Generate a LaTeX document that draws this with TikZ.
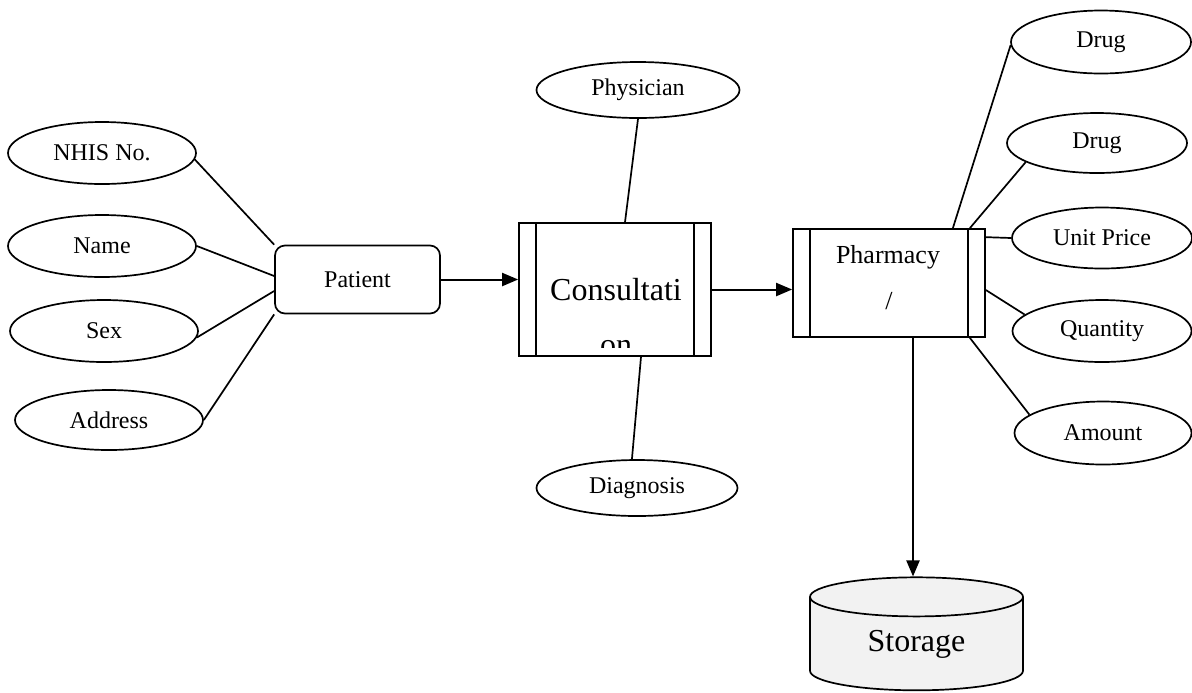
\documentclass[tikz,border=0pt]{standalone}
\usepackage{fontspec}
\setmainfont{Liberation Serif}
\usetikzlibrary{shapes.geometric,arrows.meta}

\begin{document}
\begin{tikzpicture}[x=0.5pt,y=-0.5pt,line width=0.85pt,
  attr/.style={draw,ellipse,inner sep=0pt,font=\fontsize{12}{14}\selectfont},
  proc/.style={draw,inner sep=0pt,minimum width=96pt,
    path picture={
      \draw ([xshift=8.5pt]path picture bounding box.north west) -- ([xshift=8.5pt]path picture bounding box.south west);
      \draw ([xshift=-8.5pt]path picture bounding box.north east) -- ([xshift=-8.5pt]path picture bounding box.south east);}},
  arr/.style={line width=1pt,-{Triangle[length=8pt,width=6.5pt]}}]
  \useasboundingbox (0,0) rectangle (1192,692);

  % patient and its attributes
  \node[attr,minimum width=94pt,minimum height=31pt] (nhis) at (102,153) {NHIS No.};
  \node[attr,minimum width=94pt,minimum height=31pt] (name) at (102,246) {Name};
  \node[attr,minimum width=94pt,minimum height=31pt] (sex) at (104,331) {Sex};
  \node[attr,minimum width=94pt,minimum height=30pt] (address) at (109,420) {Address};
  \node[draw,rounded corners=5pt,inner sep=0pt,minimum width=82.5pt,minimum height=34pt,
    font=\fontsize{12}{14}\selectfont] (patient) at (357.5,279.5) {Patient};

  % consultation
  \node[proc,minimum height=66.5pt] (consult) at (615,289.5) {};
  \node[anchor=base,font=\fontsize{16}{19}\selectfont] (consulttxt) at (616,300) {Consultati};
  \begin{scope}
    \clip (consult.north west) rectangle (711,347);
    \node[anchor=base,font=\fontsize{16}{19}\selectfont] (consulttxt2) at (616,355) {on};
  \end{scope}
  \node[attr,minimum width=101.5pt,minimum height=28pt] (physician) at (638,90) {Physician};
  \node[attr,minimum width=100.5pt,minimum height=28pt] (diagnosis) at (637,488) {Diagnosis};

  % pharmacy and its attributes
  \node[proc,minimum height=54pt] (pharm) at (889,283) {};
  \node[anchor=base,font=\fontsize{13}{16}\selectfont] (pharmtxt) at (888,263) {Pharmacy};
  \node[anchor=base,font=\fontsize{13}{16}\selectfont] (pharmtxt2) at (889,309) {/};
  \node[attr,minimum width=90pt,minimum height=31.5pt] (drugA) at (1101,42) {Drug};
  \node[attr,minimum width=90pt,minimum height=30pt] (drugB) at (1097,143) {Drug};
  \node[attr,minimum width=90pt,minimum height=30.5pt] (price) at (1102,238) {Unit Price};
  \node[attr,minimum width=89.5pt,minimum height=31pt] (qty) at (1102,331) {Quantity};
  \node[attr,minimum width=88.5pt,minimum height=31.5pt] (amount) at (1103,433) {Amount};

  % storage
  \node[draw,cylinder,shape border rotate=90,aspect=0.4,inner sep=0pt,
    minimum width=106.5pt,minimum height=56.5pt,fill=black!5,
    font=\fontsize{16}{19}\selectfont] (storage) at (916.5,644) {Storage};

  % connectors
  \draw (nhis.-4) -- (patient.north west);
  \draw (name.east) -- ([yshift=1.75pt]patient.west);
  \draw (sex.-4) -- ([yshift=-5.75pt]patient.west);
  \draw (address.east) -- (patient.south west);
  \draw[arr] (patient.east) -- (patient.east -| consult.west);
  \draw (physician.south) -- ([xshift=5pt]consult.north);
  \draw ([xshift=13pt]consult.south) -- (diagnosis.100);
  \draw[arr] (consult.east) -- (consult.east -| pharm.west);
  \draw (drugA.182) -- ([xshift=-16.5pt]pharm.north east);
  \draw (drugB.195) -- ([xshift=-8pt]pharm.north east);
  \draw (price.west) -- ([yshift=-4.5pt]pharm.north east);
  \draw (qty.168) -- ([yshift=-3.5pt]pharm.east);
  \draw (amount.166) -- ([xshift=-8pt]pharm.south east);
  \coordinate (drop) at ([xshift=12pt]pharm.south);
  \draw[arr] (drop) -- (drop |- storage.north);
\end{tikzpicture}
\end{document}
